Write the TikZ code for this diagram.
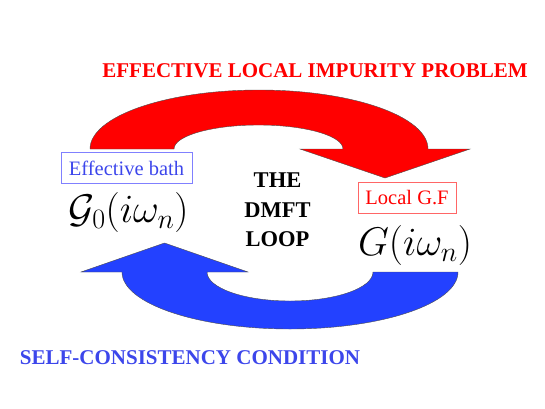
\documentclass[tikz,border=0pt]{standalone}
\usepackage{fix-cm}
\usepackage{fontspec}
\setmainfont{Liberation Serif}
\definecolor{loopred}{RGB}{255,0,0}
\definecolor{loopblue}{RGB}{35,65,255}
\definecolor{labelblue}{RGB}{60,70,235}
\begin{document}
\begin{tikzpicture}[x=1pt, y=1pt,
        band/.style={draw=black!70, line width=0.4pt},
        title/.style={font=\fontsize{21}{25}\selectfont\bfseries, anchor=base},
        tagbox/.style={draw, line width=0.6pt, minimum width=#1, minimum height=31pt, inner sep=0pt, font=\fontsize{20.5}{24}\selectfont},
        green/.style={font=\fontsize{40}{44}\selectfont, anchor=base}]
    \useasboundingbox (0, 0) rectangle (545, 408);
    % impurity solver arrow
    \fill[loopred, band] (90, 259) arc (180:0:169 and 59) -- (470, 259) -- (385, 230)
        -- (300, 259) -- (343, 259) arc (0:180:84.5 and 24) -- cycle;
    % self-consistency arrow
    \fill[loopblue, band] (458, 136) arc (0:-180:168 and 57) -- (81, 136) -- (164.5, 165)
        -- (248, 136) -- (207, 136) arc (180:360:83 and 29) -- cycle;
    \node[title, text=loopred] (impurity) at (315, 331) {EFFECTIVE LOCAL IMPURITY PROBLEM};
    \node[title, text=labelblue] (selfcons) at (190, 44) {SELF-CONSISTENCY CONDITION};
    \node[tagbox=131pt, draw=blue!50, text=labelblue] (bath) at (126.5, 240) {Effective bath};
    \node[tagbox=98pt, draw=red!60, text=loopred] (localgf) at (407, 210.5) {Local G.F};
    \node[green] (weiss) at (128.5, 186) {$\mathcal{G}_0(i\omega_n)$};
    \node[green] (gloc) at (415, 153) {$G(i\omega_n)$};
    \node[align=center, font=\fontsize{22.5}{29.5}\selectfont\bfseries] (loop) at (277.5, 198) {THE\\DMFT\\LOOP};
\end{tikzpicture}
\end{document}
